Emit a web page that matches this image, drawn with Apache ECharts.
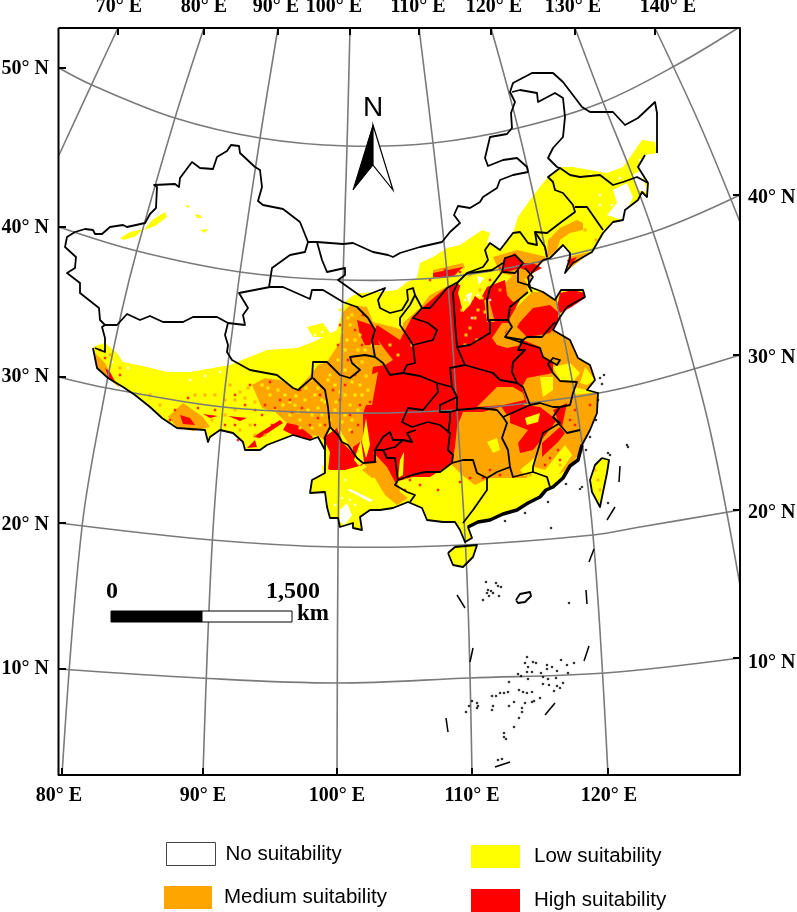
<!DOCTYPE html>
<html><head><meta charset="utf-8">
<style>html,body{margin:0;padding:0;background:#fff}#c{width:797px;height:912px}</style>
<script src="https://cdn.jsdelivr.net/npm/echarts@6/dist/echarts.min.js"></script>
</head><body><div id="c"></div>
<script>
// ---- legend / tick text
const classNames = ['No suitability','Low suitability','Medium suitability','High suitability'];
const classColors = ['#ffffff','#ffff00','#ffa500','#ff0000'];
const topLabels = ['70° E','80° E','90° E','100° E','110° E','120° E','130° E','140° E'];
const topLabelX = [119,204,276,334,418,494,573,668];
const bottomLabels = ['80° E','90° E','100° E','110° E','120° E'];
const bottomLabelX = [59,203,337,472,609];
const leftLabels = ['50° N','40° N','30° N','20° N','10° N'];
const leftLabelY = [69,228,377,525,669];
const rightLabels = ['40° N','30° N','20° N','10° N'];
const rightLabelY = [198,358,513,663];

// ---- map-plane geometry
const frameBox = [[58.5,28],[740,28],[740,775],[58.5,775]];
const meridians = [
 [[118,28],[103,60],[59,155]],
 [[204,28],[175,118],[137,250],[122,310],[106,387],[82,527],[62,775]],
 [[278,28],[260,138],[240,272],[235,310],[223,407],[212,547],[203,775]],
 [[350,28],[347,147],[343,280],[342,360],[340,413],[338,547],[337,775]],
 [[419,28],[433,143],[447,273],[457,410],[467,577],[472,775]],
 [[491,28],[518,128],[547,257],[575,397],[593,535],[608,775]],
 [[575,28],[603,102],[633,177],[653,232],[680,317],[710,430],[740,585]],
 [[655,28],[700,125],[740,222]]
];
const parallels = [
 [[59,68],[92,85],[175,118],[260,138],[347,146],[433,143],[518,128],[603,102],[680,63],[738,28]],
 [[59,227],[137,251],[240,272],[343,280],[447,277],[547,260],[653,232],[740,195]],
 [[59,377],[107,388],[223,407],[340,413],[457,410],[575,397],[640,384],[740,355]],
 [[59,523],[212,540],[338,547],[463,545],[593,535],[640,527],[740,510]],
 [[59,669],[200,678],[337,683],[470,678],[605,673],[740,658]]
];
const topTickX = [118,204,278,350,419,491,575,655];
const bottomTickX = [62,203,337,472,608];
const leftTickY = [68,227,377,523,669];
const rightTickY = [195,355,510,658];

const borderNorth = [[95,348],[105,352],[105,338],[102,327],[105,325],[100,320],[99,308],[80,293],[80,283],[67,273],[75,268],[76,257],[65,247],[67,237],[75,232],[85,229],[93,230],[95,234],[102,234],[110,227],[123,225],[127,227],[145,223],[150,214],[156,208],[157,187],[154,185],[175,184],[179,187],[180,178],[192,162],[200,168],[213,169],[217,157],[227,151],[231,145],[239,146],[240,153],[255,167],[260,170],[262,187],[258,201],[263,205],[283,209],[300,222],[308,242],[317,242],[343,244],[353,243],[373,252],[388,255],[393,257],[400,253],[420,247],[442,242],[450,232],[460,223],[454,215],[458,206],[470,208],[480,202],[483,197],[497,188],[500,180],[513,175],[528,172],[527,167],[517,158],[503,160],[488,166],[485,158],[490,137],[507,134],[512,128],[511,113],[515,102],[510,92],[513,83],[532,73],[553,73],[563,82],[582,107],[590,112],[613,112],[625,125],[638,118],[655,102],[657,113],[657,153]];
const coastSouth = [[645,155],[638,167],[648,183],[647,197],[642,192],[638,200],[625,210],[623,220],[613,222],[603,233],[592,252],[573,263],[565,273],[570,258],[570,253],[563,245],[550,258],[543,260],[528,277],[530,287],[543,292],[555,300],[561,290],[583,290],[585,297],[567,307],[560,317],[553,330],[570,340],[578,358],[590,365],[595,380],[587,390],[598,393],[597,413],[590,430],[582,445],[578,460],[570,466],[563,478],[553,487],[546,490],[540,497],[528,503],[517,510],[503,514],[490,520],[478,522],[468,527],[472,538],[465,542],[460,530],[455,522],[443,522],[427,520],[422,508],[408,502],[393,508],[380,510],[370,510],[360,517],[362,530],[353,528],[353,523],[340,527],[338,518],[330,518],[327,507],[325,492],[310,493],[312,480],[325,473],[325,450],[318,437],[310,440],[293,435],[267,445],[260,450],[245,450],[243,442],[233,433],[220,430],[210,437],[208,442],[205,430],[177,428],[162,418],[150,407],[135,395],[123,387],[108,378],[97,368],[93,348]];
const yellowNorthEdge = [[95,346],[105,343],[117,353],[123,362],[147,367],[167,372],[190,372],[213,368],[230,365],[247,358],[267,350],[297,348],[313,342],[337,330],[340,320],[345,302],[352,296],[360,293],[380,292],[397,290],[407,282],[417,278],[420,263],[433,257],[447,248],[460,245],[482,230],[490,233],[487,242],[500,250],[513,233],[518,217],[530,200],[543,183],[550,175],[560,167],[573,167],[607,173],[623,167],[633,153],[642,140],[655,142],[657,153]];
const provinceLines = [
 [[105,325],[117,325],[127,314],[140,320],[150,316],[163,322],[183,322],[193,317],[217,317],[228,323],[245,325],[243,315],[248,308],[239,293],[270,287],[283,287],[310,299],[312,290],[323,290],[343,302],[357,307],[368,318],[375,330],[372,340],[375,357]],
 [[228,323],[225,335],[228,345],[227,352],[232,360],[250,370],[277,375],[293,388],[298,390],[312,378],[313,362],[327,362],[340,375],[350,378],[360,370],[352,363],[350,357],[365,355],[375,357],[383,363],[390,375],[403,373],[407,365],[415,363],[413,345],[433,340],[437,330],[428,323],[413,318],[422,308]],
 [[313,378],[325,390],[328,407],[330,427],[325,437],[325,450]],
 [[308,242],[305,252],[290,255],[272,268],[269,287]],
 [[317,242],[322,260],[327,272],[345,268],[345,275],[338,280],[352,290],[362,297],[385,288],[378,300],[380,308],[390,313],[402,310],[408,300],[407,290],[413,288],[415,295],[410,305],[400,318],[400,325],[408,337],[413,345]],
 [[415,295],[422,308],[430,308],[437,300],[447,288],[458,282],[467,273],[483,267],[488,260],[485,250],[490,243],[500,250],[513,233],[520,232],[528,243],[537,245],[535,232],[547,233],[560,223],[575,212],[573,205],[563,193],[555,190],[553,182],[548,177],[560,168],[570,175],[580,177],[600,175],[613,185],[623,182],[637,177],[648,183]],
 [[512,92],[520,90],[537,93],[538,102],[555,93],[563,98],[565,117],[563,137],[553,148],[548,158],[557,167],[560,168]],
 [[575,207],[587,207],[603,230]],
 [[535,232],[545,247],[547,257]],
 [[458,282],[453,293],[455,323],[457,347],[465,365],[450,368],[452,387]],
 [[403,373],[420,376],[437,383],[452,387],[457,397],[440,405],[440,412],[450,412],[450,420],[448,433]],
 [[437,383],[438,392],[423,410],[408,408],[402,422],[412,427],[428,422],[440,425],[450,433],[448,450],[453,455],[452,463],[440,472],[425,472],[412,475],[398,480],[395,458],[387,458],[383,450],[395,447],[403,440],[412,442],[407,433],[416,430]],
 [[383,450],[375,450],[375,462],[363,463],[357,458],[348,445],[342,442],[338,435],[330,427]],
 [[383,437],[390,432],[393,440],[403,440]],
 [[383,437],[375,450]],
 [[398,480],[395,485],[407,492],[415,495],[410,502]],
 [[457,347],[470,345],[490,333],[490,322],[488,320],[487,300],[490,288],[502,272],[505,258],[515,255],[523,263],[515,273],[503,272]],
 [[467,273],[477,272],[492,270],[503,263]],
 [[518,270],[518,282],[528,285],[532,292]],
 [[525,268],[533,277],[528,285]],
 [[528,292],[510,307],[508,320],[488,320]],
 [[508,320],[512,327],[505,337],[520,342],[527,337],[542,337],[548,330],[555,322]],
 [[465,365],[493,373],[500,380],[517,383],[523,387],[525,392]],
 [[505,337],[523,340],[518,350],[525,350],[513,362],[512,372],[517,383]],
 [[520,342],[540,348],[543,357],[557,365],[560,360],[553,358],[548,364],[553,373],[560,381],[577,382],[573,393],[570,405],[560,407],[553,417],[567,433],[580,430]],
 [[525,392],[530,405],[540,403],[553,407],[560,407]],
 [[457,397],[457,410],[480,408],[497,410],[503,417],[530,405]],
 [[503,417],[507,423],[502,438],[508,450],[510,467],[513,477],[533,472],[547,477],[550,487]],
 [[553,417],[560,423],[543,433],[538,450],[533,467],[533,472]],
 [[510,467],[497,472],[487,478],[477,473],[473,460],[463,460],[452,463]],
 [[487,478],[487,490],[473,510],[463,523]],
 [[450,412],[457,410]]
];
const coastThick = [[582,445],[578,460],[570,466],[563,478],[553,487],[546,490],[540,497],[528,503],[517,510],[503,514],[490,520],[478,522],[468,527]];
const hainan = [[448,553],[455,547],[477,545],[473,557],[463,567],[453,565]];
const taiwan = [[602,458],[609,460],[607,473],[602,497],[600,507],[592,492],[590,480],[595,465]];
const macclesfield = [[516,600],[520,594],[530,592],[531,596],[525,602],[518,603],[516,600]];
const nineDash = [[[457,595],[465,608]],[[473,648],[470,662]],[[446,718],[448,732]],[[495,767],[510,762]],[[545,715],[555,703]],[[584,661],[589,646]],[[586,590],[587,604]],[[589,562],[594,549]],[[607,520],[615,507]],[[619,482],[620,466]]];
const islets = [[486,582],[496,583],[498,586],[501,587],[488,590],[491,591],[487,593],[489,596],[493,593],[499,596],[483,600],[569,603],[527,657],[525,663],[528,667],[533,662],[536,663],[527,672],[532,672],[547,665],[547,669],[552,667],[557,671],[561,660],[567,665],[574,663],[568,673],[518,674],[521,676],[541,673],[543,677],[548,679],[556,678],[563,683],[543,684],[549,685],[557,686],[560,688],[554,691],[528,679],[509,682],[519,690],[523,692],[527,693],[532,692],[500,693],[504,693],[508,692],[492,696],[496,696],[540,698],[532,702],[534,701],[525,703],[514,702],[509,706],[493,706],[492,710],[477,703],[478,706],[472,701],[469,706],[466,712],[477,708],[522,708],[522,712],[519,718],[514,727],[504,733],[504,737],[506,739],[498,760],[502,759],[627,445],[628,447],[608,453],[610,455],[582,487],[580,489],[551,528],[608,503],[600,378],[604,375],[602,384],[598,400],[596,420],[590,437],[586,450],[566,484],[548,502],[525,513],[505,521]];

const yellowXinjiang = [[[120,238],[130,232],[143,229],[136,236],[124,240]],[[144,230],[152,220],[165,212],[167,217],[155,226]],[[195,214],[200,215],[202,218],[197,218]],[[200,230],[208,229],[205,233]],[[185,205],[190,206],[188,208]]];
const yellowQinghai = [[[307,327],[323,323],[333,337],[313,337]]];
const orangeBase = [
 [[95,353],[105,363],[113,377],[120,388],[110,380],[97,368]],
 [[168,417],[183,403],[203,417],[210,427],[193,431],[177,427]],
 [[252,385],[265,378],[280,380],[297,390],[313,372],[318,365],[327,362],[340,342],[343,312],[350,305],[367,307],[373,322],[397,328],[420,308],[430,295],[450,285],[470,285],[470,400],[460,440],[395,480],[370,470],[355,455],[340,430],[330,428],[325,440],[318,436],[293,433],[287,423],[275,412],[262,408]],
 [[370,470],[395,470],[400,492],[408,498],[397,505],[385,495]],
 [[548,240],[560,228],[577,220],[583,223],[583,230],[570,233],[560,240],[557,250],[547,258]],
 [[568,257],[590,252],[577,263],[568,270]],
 [[433,270],[463,263],[465,268],[433,278]],
 [[493,257],[517,250],[547,257],[533,273],[530,280],[500,273]],
 [[505,283],[518,270],[527,283],[528,292],[510,307],[495,300]],
 [[510,310],[517,307],[532,292],[543,292],[555,300],[561,308],[558,322],[553,330],[570,340],[578,358],[590,365],[595,380],[587,390],[598,393],[597,413],[590,430],[582,445],[578,455],[567,470],[555,476],[545,470],[530,466],[527,478],[505,478],[490,478],[475,485],[462,475],[452,465],[455,440],[460,410],[480,340],[495,322]]
];
const redBase = [
 [[377,325],[400,340],[412,317],[422,308],[437,295],[447,287],[458,284],[470,292],[480,300],[487,287],[505,280],[507,295],[513,302],[520,300],[510,318],[505,337],[507,348],[523,340],[540,347],[543,357],[553,363],[553,373],[527,378],[522,387],[527,403],[500,407],[483,412],[463,412],[457,427],[455,447],[452,463],[430,477],[413,477],[395,482],[387,467],[373,452],[377,463],[360,462],[353,452],[353,447],[363,440],[363,413],[368,400],[373,367],[385,365],[393,360],[383,347],[373,333]],
 [[323,438],[337,428],[343,443],[357,457],[363,465],[345,470],[328,470],[330,452]],
 [[287,423],[297,425],[313,437],[310,440],[293,435],[283,430]],
 [[253,437],[280,420],[283,423],[260,438]],
 [[247,448],[255,440],[257,447]],
 [[228,416],[247,418],[240,421]],
 [[203,414],[218,416],[210,418]],
 [[357,320],[372,325],[380,345],[365,345],[360,335]],
 [[517,327],[520,322],[533,308],[550,305],[558,312],[558,322],[550,333],[540,335],[527,337]],
 [[557,307],[560,293],[573,290],[585,293],[585,298],[570,308],[560,313]],
 [[510,403],[540,407],[557,420],[547,433],[533,450],[520,453],[518,443],[528,430],[510,423]],
 [[542,443],[560,427],[565,433],[558,442],[542,457]],
 [[553,410],[567,403],[562,427],[558,420]],
 [[498,402],[513,393],[525,398],[523,407],[507,415]],
 [[567,260],[577,257],[570,267]],
 [[503,260],[515,253],[522,263],[533,263],[542,268],[533,273],[520,268],[503,273]],
 [[433,273],[463,267],[453,277],[433,277]],
 [[105,368],[110,372],[115,382],[109,378]],
 [[180,415],[190,418],[195,425],[183,424]]
];
const orangeOverlay = [
 [[477,407],[497,387],[513,387],[523,393],[525,400],[503,405]],
 [[492,338],[502,323],[510,323],[505,333],[522,345],[507,348],[497,345]],
 [[370,375],[378,372],[372,405],[366,405]],
 [[484,300],[489,300],[495,322],[487,322]],
 [[362,470],[374,462],[385,476],[372,478]]
];
const yellowOverlay = [
 [[463,277],[490,272],[492,283],[480,287],[470,305],[463,312],[458,293]],
 [[553,367],[570,363],[580,373],[573,382],[560,380]],
 [[585,367],[595,380],[587,385],[580,383]],
 [[540,377],[553,377],[553,390],[543,397]],
 [[573,387],[597,392],[573,395]],
 [[487,442],[497,438],[500,450],[493,453]],
 [[525,418],[540,413],[538,422],[527,425]],
 [[545,470],[565,445],[572,455],[555,480]],
 [[520,470],[538,455],[533,470],[525,476]],
 [[400,460],[404,452],[403,475],[398,478]],
 [[362,442],[366,418],[370,445],[366,458]],
 [[354,460],[361,440],[364,462],[359,466]],
 [[322,465],[330,470],[332,505],[325,495]],
 [[390,318],[405,312],[402,330],[396,328]]
];
const whiteOverlay = [
 [[340,510],[347,503],[352,515],[345,525],[340,522]],
 [[613,190],[627,183],[633,197],[627,210],[622,220],[607,215],[617,203]],
 [[633,175],[641,170],[647,192],[638,190]],
 [[347,490],[350,489],[373,500],[370,502]],
 [[466,295],[472,292],[470,305]],
 [[477,276],[484,278],[479,285]],
 [[590,470],[594,468],[592,475]]
];
const yellowSpeck = [[262,385],[270,395],[285,395],[295,405],[305,400],[315,395],[312,415],[300,420],[322,415],[335,385],[345,395],[350,405],[330,375],[345,370],[355,395],[352,420],[360,385],[335,410],[350,430],[275,410],[290,415],[345,350],[355,340],[350,325],[365,350],[360,335],[372,345],[325,402],[318,408],[308,410],[298,412],[283,405],[268,388],[342,332],[352,315],[338,360],[356,366],[366,376],[362,395],[412,345],[475,318],[472,298],[466,335],[320,425],[336,402],[345,415],[306,388],[296,396],[278,390],[290,402],[310,380],[318,388],[328,380],[340,392],[352,382],[358,410],[330,420],[312,428],[300,428],[322,400],[342,422],[347,340],[358,350],[362,362],[368,390],[478,310],[482,298],[470,328],[477,340],[465,345],[462,310],[485,312],[390,345],[398,355],[340,310],[348,318]];
const redSpeck = [[120,375],[105,358],[100,350],[235,395],[245,405],[255,410],[265,405],[275,408],[280,400],[292,412],[302,408],[310,425],[318,418],[325,425],[305,432],[235,425],[225,425],[215,410],[198,408],[188,398],[175,410],[170,420],[290,400],[300,390],[320,395],[333,390],[340,400],[350,415],[352,432],[345,385],[355,375],[362,345],[355,330],[363,315],[340,325],[348,360],[338,345],[360,405],[358,425],[370,402],[430,280],[445,270],[460,272],[490,280],[500,268],[540,262],[250,385],[270,382],[262,415],[272,425],[255,425],[238,440],[490,470],[500,475],[483,478],[470,478],[460,482],[438,490],[420,485],[590,405],[575,410],[570,420],[558,450],[550,458],[545,465],[560,460],[575,425],[410,480],[405,490]];
const orangeSpeck = [[150,395],[160,405],[215,395],[225,400],[205,395],[195,395],[212,420],[225,415],[120,368],[110,355],[255,435],[265,435],[250,425],[240,430],[235,410],[230,385],[240,392],[248,388],[235,400],[245,398],[255,402],[405,478],[395,500],[480,290],[470,275],[500,290],[595,470],[598,480],[600,490],[530,475],[560,465],[542,460],[585,230],[596,240]];
const whiteSpeck = [[112,345],[120,355],[130,360],[145,362],[160,368],[175,368],[195,365],[210,362],[225,360],[240,352],[255,345],[285,345],[300,340],[315,335],[335,322],[112,362],[128,368],[190,380],[205,376],[220,372],[345,510],[350,500],[355,505],[342,498],[335,505],[345,480],[590,175],[620,178],[640,160],[645,165],[600,205],[612,205],[600,195],[490,300],[478,295],[472,318],[465,300],[322,332],[330,322]];

// ---- annotation text
const scaleLabels = ['0','1,500','km'];
const scaleBarBlack = [[111,611],[202,611],[202,622],[111,622]];
const scaleBarWhite = [[202,611],[292,611],[292,622],[202,622]];
const arrowLeft = [[373,125],[353,190],[373,165]];
const arrowRight = [[373,125],[393,190],[373,165]];

const lineGray = '#7a7a7a';
function polySeries(name, polys, fill, z, stroke, w){
  return {type:'custom', name, z, coordinateSystem:'cartesian2d', clip:false, silent:true, animation:false,
    itemStyle:{color:fill}, encode:{x:0,y:1}, data:polys.map((_,i)=>[i,0]),
    renderItem:(p,api)=>({type:'polygon',
      shape:{points:polys[api.value(0)].map(q=>api.coord(q))},
      style:{fill, stroke:stroke||null, lineWidth:w||0}})};
}
function lineSeries(polys, color, w, z, smooth){
  return {type:'custom', z, coordinateSystem:'cartesian2d', clip:false, silent:true, animation:false,
    encode:{x:0,y:1}, data:polys.map((_,i)=>[i,0]),
    renderItem:(p,api)=>({type:'polyline',
      shape:{points:polys[api.value(0)].map(q=>api.coord(q)), smooth:smooth||0},
      style:{fill:null, stroke:color, lineWidth:w, lineJoin:'round'}})};
}
function specks(pts,color,size,z,sym){
  return {type:'scatter', z, silent:true, animation:false, data:pts, symbol:sym||'rect', symbolSize:size,
    itemStyle:{color}};
}
function textSeries(items, font, align, z){
  return {type:'custom', z, coordinateSystem:'cartesian2d', clip:false, silent:true, animation:false,
    encode:{x:0,y:1}, data:items.map((t,i)=>[i,0]),
    renderItem:(p,api)=>{const it=items[api.value(0)];const c=api.coord([it[1],it[2]]);
      return {type:'text',x:c[0],y:c[1],style:{text:it[0],font,fill:'#000',align:it[3]||align,verticalAlign:'middle'}};}};
}
const serif='bold 20px "Liberation Serif"';
const ticks=[...topTickX.map(x=>[[x,28],[x,35]]),...bottomTickX.map(x=>[[x,775],[x,768]]),
  ...leftTickY.map(y=>[[58,y],[66,y]]),...rightTickY.map(y=>[[740,y],[733,y]])];
const yellowMain=[...yellowNorthEdge,...coastSouth];
const nationalRing=[...borderNorth,...coastSouth];

const series=[
 polySeries(classNames[0],[nationalRing],classColors[0],1),
 polySeries(classNames[1],[yellowMain,hainan,taiwan,...yellowXinjiang,...yellowQinghai],classColors[1],2),
 polySeries(classNames[2],orangeBase,classColors[2],3),
 polySeries(classNames[3],redBase,classColors[3],4),
 polySeries(classNames[2],orangeOverlay,classColors[2],5),
 polySeries(classNames[1],yellowOverlay,classColors[1],6),
 polySeries(classNames[0],whiteOverlay,classColors[0],7),
 specks(orangeSpeck,classColors[2],3,8),
 specks(yellowSpeck,classColors[1],3,8),
 specks(redSpeck,classColors[3],2.5,8),
 specks(whiteSpeck,classColors[0],2.5,8),
 lineSeries(meridians,lineGray,1.6,10,0.35),
 lineSeries(parallels,lineGray,1.6,10,0.35),
 lineSeries([...provinceLines,borderNorth,coastSouth,[...hainan,hainan[0]],[...taiwan,taiwan[0]],macclesfield],'#000',1.8,11),
 lineSeries([coastThick],'#000',3.5,11),
 lineSeries(nineDash,'#000',1.5,11),
 specks(islets,'#000',2.6,11,'circle'),
 lineSeries([[...frameBox,frameBox[0]]],'#000',2,12),
 lineSeries(ticks,'#000',2,12),
 polySeries('bar',[scaleBarBlack],'#000',13,'#000',1),
 polySeries('bar',[scaleBarWhite],'#fff',13,'#000',1),
 polySeries('arrow',[arrowLeft],'#000',13,'#000',1),
 polySeries('arrow',[arrowRight],'#fff',13,'#000',1.2),
 textSeries(topLabels.map((t,i)=>[t,topLabelX[i],7]),serif,'center',14),
 textSeries(bottomLabels.map((t,i)=>[t,bottomLabelX[i],796]),serif,'center',14),
 textSeries(leftLabels.map((t,i)=>[t,49,leftLabelY[i]]),serif,'right',14),
 textSeries(rightLabels.map((t,i)=>[t,748,rightLabelY[i]]),serif,'left',14),
 textSeries([[scaleLabels[0],112,592],[scaleLabels[1],293,592]],'bold 24px "Liberation Serif"','center',14),
 textSeries([[scaleLabels[2],313,614]],'bold 23px "Liberation Serif"','center',14),
 textSeries([['N',373,108]],'28px "Liberation Sans"','center',14)
];
const legendSpots=[[166,842],[471,845],[164,886],[471,889]];
const legendPad=[10,14,12,14];
const legend=classNames.map((n,i)=>({
  left:legendSpots[i][0], top:legendSpots[i][1], orient:'horizontal', padding:0, itemGap:0, selectedMode:false,
  itemWidth:i==2?48:49, itemHeight:23, icon:'rect',
  data:[{name:n,itemStyle:i==0?{color:'#fff',borderColor:'#444',borderWidth:1}:{color:classColors[i]}}],
  textStyle:{fontFamily:'Liberation Sans',fontSize:20.5,color:'#000',padding:[2,0,0,legendPad[i]-5]}
}));
const chart=echarts.init(document.getElementById('c'),null,{renderer:'canvas'});
chart.setOption({
  backgroundColor:'#fff', animation:false, legend, tooltip:{show:false},
  grid:{left:0,right:0,top:0,bottom:0,containLabel:false},
  xAxis:{type:'value',min:0,max:797,show:false},
  yAxis:{type:'value',min:0,max:912,inverse:true,show:false},
  series
});
</script></body></html>
